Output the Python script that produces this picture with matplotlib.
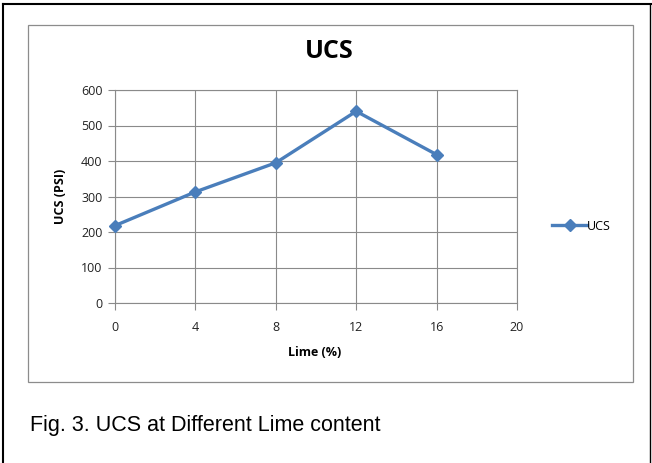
import matplotlib
matplotlib.use("Agg")
import matplotlib.pyplot as plt
from matplotlib.patches import Rectangle
from matplotlib.lines import Line2D

lime = [0, 4, 8, 12, 16]
ucs = [218, 313, 395, 540, 418]
xticks = [0, 4, 8, 12, 16, 20]
yticks = [0, 100, 200, 300, 400, 500, 600]

W, H = 652, 463
fig = plt.figure(figsize=(W/100, H/100), dpi=100)
fig.patch.set_facecolor("white")

def fx(px): return px / W
def fy(py): return 1 - py / H

# outer border (top and left)
fig.add_artist(Line2D([fx(3), 1], [fy(4), fy(4)], color="black", lw=1.5))
fig.add_artist(Line2D([fx(3), fx(3)], [fy(4), 0], color="black", lw=1.5))
fig.add_artist(Line2D([fx(650), fx(650)], [fy(4), 0], color="black", lw=1.0))
# chart area box
fig.add_artist(Rectangle((fx(28), fy(382)), fx(633) - fx(28), fy(25) - fy(382),
                         fill=False, edgecolor="#8c8c8c", lw=0.9))

ax = fig.add_axes([fx(115), fy(303), fx(517) - fx(115), fy(90) - fy(303)])
ax.plot(lime, ucs, color="#4A7EBB", lw=2.4, marker="D", markersize=6,
        markerfacecolor="#4A7EBB", markeredgecolor="#4A7EBB", label="UCS",
        clip_on=False, zorder=3)
ax.set_xlim(0, 20)
ax.set_ylim(0, 600)
ax.set_xticks(xticks)
ax.set_yticks(yticks)
ax.grid(True, color="#8a8a8a", lw=0.8)
for s in ax.spines.values():
    s.set_color("#8a8a8a")
    s.set_linewidth(0.8)
ax.tick_params(axis="both", colors="#8a8a8a", length=5, width=0.8, labelcolor="#222222",
               labelsize=9)
for lbl in ax.get_xticklabels() + ax.get_yticklabels():
    lbl.set_fontfamily("Open Sans")
ax.tick_params(axis="x", pad=8)
ax.tick_params(axis="y", pad=4)

fig.text(fx(329), fy(52), "UCS", ha="center", va="center", fontsize=18,
         fontweight="bold", family="Open Sans")
fig.text(fx(315), fy(352), "Lime (%)", ha="center", va="center", fontsize=9,
         fontweight="bold", family="Open Sans")
fig.text(fx(61), fy(196), "UCS (PSI)", ha="center", va="center", fontsize=9,
         fontweight="bold", family="Open Sans", rotation=90)

leg = fig.legend(loc="center left", bbox_to_anchor=(fx(546), fy(226)), frameon=False,
                 prop={"family": "Open Sans", "size": 9}, handlelength=2.8,
                 handletextpad=0.0, borderpad=0)

fig.text(fx(30), fy(425), "Fig. 3. UCS at Different Lime content", ha="left", va="center",
         fontsize=15.5, family="Liberation Sans")

fig.savefig("out.png", dpi=100)
